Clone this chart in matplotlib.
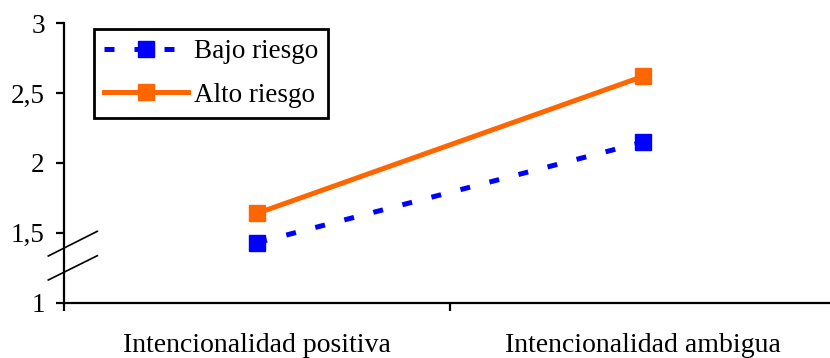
import matplotlib
matplotlib.use("Agg")
import matplotlib.pyplot as plt
from matplotlib.lines import Line2D

categories = ["Intencionalidad positiva", "Intencionalidad ambigua"]
bajo_riesgo = [1.43, 2.15]
alto_riesgo = [1.64, 2.62]
y_ticks = [1, 1.5, 2, 2.5, 3]
y_tick_labels = ["1", "1,5", "2", "2,5", "3"]

plt.rcParams["font.family"] = ["Liberation Serif", "DejaVu Serif"]

W, H = 830, 358
fig = plt.figure(figsize=(W / 100, H / 100), dpi=100)
ax = fig.add_axes([64.3 / W, (H - 302.7) / H, (836 - 64.3) / W, (302.7 - 23.3) / H])

x = list(range(len(categories)))
ax.plot(x, bajo_riesgo, color="#0000FF", lw=3.6, dashes=(2.0, 4.0),
        dash_capstyle="butt", marker="s", ms=11.5, mec="#0000FF",
        label="Bajo riesgo", clip_on=False, zorder=3)
ax.plot(x, alto_riesgo, color="#FF6600", lw=3.6, marker="s", ms=11.5,
        mec="#FF6600", label="Alto riesgo", clip_on=False, zorder=3)

ax.set_xlim(-0.5, 1.5)
ax.set_ylim(1, 3)

for side in ("top", "right"):
    ax.spines[side].set_visible(False)
for side in ("left", "bottom"):
    ax.spines[side].set_linewidth(1.6)
    ax.spines[side].set_color("black")

ax.set_yticks(y_ticks)
ax.set_yticklabels(y_tick_labels)
ax.tick_params(axis="y", direction="out", length=6, width=1.6, pad=8,
               labelsize=19.5)

# group boundaries as major ticks, category names on minor ticks
ax.set_xticks([-0.5, 0.5, 1.5])
ax.set_xticklabels([])
ax.set_xticks(x, minor=True)
ax.set_xticklabels(categories, minor=True)
ax.tick_params(axis="x", which="major", direction="out", length=6, width=1.6)
ax.tick_params(axis="x", which="minor", length=0, pad=22, labelsize=20)

# axis break marks on the y axis
for y0, y1 in [(256, 231.3), (280, 255.7)]:
    fig.add_artist(Line2D([48.3 / W, 97.3 / W], [1 - y0 / H, 1 - y1 / H],
                          transform=fig.transFigure, color="black", lw=1.2))

leg = ax.legend(loc="upper left", bbox_to_anchor=(94 / W, 1 - 29 / H),
                bbox_transform=fig.transFigure, fontsize=19.5,
                frameon=True, fancybox=False, shadow=False,
                edgecolor="black", framealpha=1, handlelength=3.1,
                handletextpad=0.2, borderpad=0.38, labelspacing=0.68,
                borderaxespad=0)
leg.get_frame().set_linewidth(2)

fig.savefig("out.png", dpi=100)
